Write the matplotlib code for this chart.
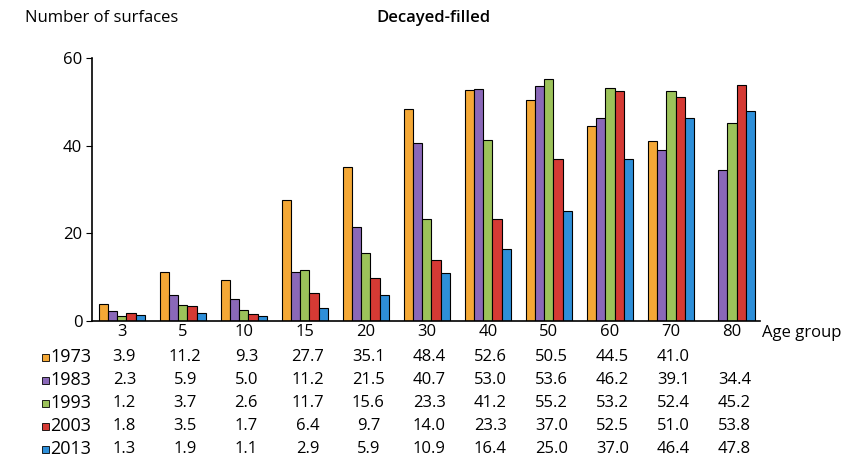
import matplotlib.pyplot as plt
import numpy as np
from matplotlib.patches import Rectangle

age_groups = ['3', '5', '10', '15', '20', '30', '40', '50', '60', '70', '80']
years = ['1973', '1983', '1993', '2003', '2013']
v1973 = [3.9, 11.2, 9.3, 27.7, 35.1, 48.4, 52.6, 50.5, 44.5, 41.0, np.nan]
v1983 = [2.3, 5.9, 5.0, 11.2, 21.5, 40.7, 53.0, 53.6, 46.2, 39.1, 34.4]
v1993 = [1.2, 3.7, 2.6, 11.7, 15.6, 23.3, 41.2, 55.2, 53.2, 52.4, 45.2]
v2003 = [1.8, 3.5, 1.7, 6.4, 9.7, 14.0, 23.3, 37.0, 52.5, 51.0, 53.8]
v2013 = [1.3, 1.9, 1.1, 2.9, 5.9, 10.9, 16.4, 25.0, 37.0, 46.4, 47.8]
series = [v1973, v1983, v1993, v2003, v2013]
colors = ['#F4A836', '#8A68B8', '#9CC25A', '#D53A34', '#2E8FD9']

plt.rcParams['font.family'] = ['Open Sans', 'DejaVu Sans']
fs = 12

fig = plt.figure(figsize=(8.53, 4.75), dpi=100)
# axes: x 92..760 px, y 58..321 px
ax = fig.add_axes([92 / 853, 1 - 321 / 475, 668 / 853, 263 / 475])

x = np.arange(len(age_groups))
width = 0.15
for i, (vals, c) in enumerate(zip(series, colors)):
    ax.bar(x + (i - 2) * width, vals, width=width, color=c, edgecolor='black', linewidth=0.8)

ax.set_xlim(-0.49, 10.46)
ax.set_ylim(0, 60)
ax.set_yticks([0, 20, 40, 60])
ax.tick_params(axis='y', labelsize=fs, length=4, direction='out', pad=3)
ax.set_xticks(x)
ax.set_xticklabels(age_groups, fontsize=fs)
ax.tick_params(axis='x', length=0, pad=2)
for s in ['top', 'right']:
    ax.spines[s].set_visible(False)
ax.spines['left'].set_linewidth(1.2)
ax.spines['bottom'].set_linewidth(1.2)

fig.text(762 / 853, 1 - 333 / 475, 'Age group', fontsize=fs, va='center', ha='left')

# table below the plot
trans = ax.get_xaxis_transform()
row_px = [357, 380, 403, 426, 449]
for yr, vals, c, py in zip(years, series, colors, row_px):
    yy = (321 - py) / 263
    for xi, v in zip(x, vals):
        if not np.isnan(v):
            ax.text(xi + 0.04, yy, f'{v:.1f}', transform=trans, ha='center', va='center',
                    fontsize=fs, clip_on=False)
    fy = 1 - py / 475
    fig.patches.append(Rectangle((42 / 853, fy - 3.5 / 475), 7 / 853, 7 / 475,
                                 transform=fig.transFigure, facecolor=c,
                                 edgecolor='black', linewidth=0.6))
    fig.text(50 / 853, fy, yr, ha='left', va='center', fontsize=13)

fig.text(25 / 853, 1 - 18 / 475, 'Number of surfaces', fontsize=fs, va='center', ha='left')
fig.text(433 / 853, 1 - 18 / 475, 'Decayed-filled', fontsize=fs, va='center', ha='center',
         fontweight='semibold')

fig.savefig('out.png', dpi=100)
